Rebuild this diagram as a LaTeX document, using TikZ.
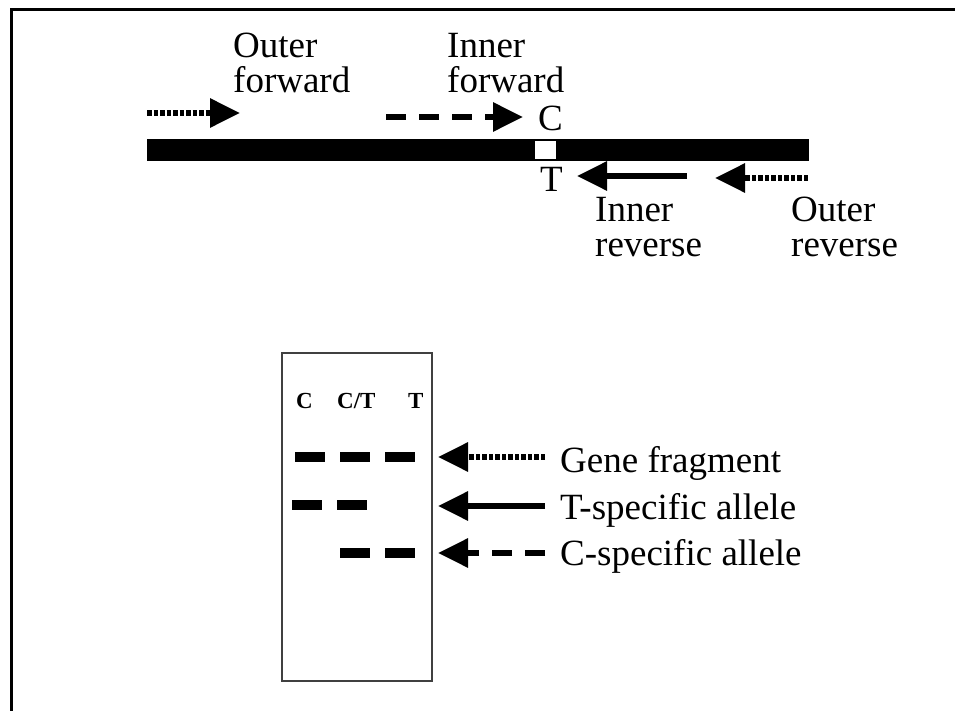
\documentclass[tikz,border=0pt]{standalone}
\usepackage{fontspec}
\setmainfont{Liberation Serif}
\usetikzlibrary{arrows.meta}
\begin{document}
\begin{tikzpicture}[x=1pt,y=-1pt,
  lbl/.style={inner sep=0pt,anchor=base west,font=\fontsize{37}{35}\selectfont,align=left},
  lane/.style={inner sep=0pt,anchor=base west,font=\fontsize{23}{23}\selectfont\bfseries},
  primer/.style={line width=6pt,-{Triangle[length=30pt,width=28pt]}},
  dotline/.style={primer,dash pattern=on 4.5pt off 2pt},
  dashline/.style={primer,dash pattern=on 20pt off 13pt},
  band/.style={fill=black}]
\useasboundingbox (0,0) rectangle (955,711);
% outer frame
\draw[line width=3pt] (11,711) -- (11,10) -- (955,10);

% gene with the C/T site
\fill (147,139) rectangle (809,161);
\fill[white] (535,141) rectangle (556,159);
\node[lbl] (siteC) at (538,131) {C};
\node[lbl] (siteT) at (540,192) {T};

% primers
\coordinate (of1) at (147,113); \coordinate (of2) at (240,113);
\coordinate (if1) at (386,117); \coordinate (if2) at (523,117);
\coordinate (ir1) at (687,176); \coordinate (ir2) at (577,176);
\coordinate (or1) at (808,178); \coordinate (or2) at (715,178);
\draw[dotline] (of1) -- (of2);
\draw[dashline] (if1) -- (if2);
\draw[primer] (ir1) -- (ir2);
\draw[dotline] (or1) -- (or2);

% two-line labels, placed by the baseline of their last line
\node[lbl] (ofl) at (233,93) {Outer\\forward};
\node[lbl] (ifl) at (447,93) {Inner\\forward};
\node[lbl] (irl) at (595,257) {Inner\\reverse};
\node[lbl] (orl) at (791,257) {Outer\\reverse};

% gel
\draw[line width=1.8pt,black!75] (282,353) rectangle (432,681);
\node[lane] (l1) at (296,408) {C};
\node[lane] (l2) at (337,408) {C/T};
\node[lane] (l3) at (408,408) {T};

\fill[band] (295,452) rectangle (325,462);
\fill[band] (340,452) rectangle (370,462);
\fill[band] (385,452) rectangle (415,462);
\fill[band] (292,500) rectangle (322,510);
\fill[band] (337,500) rectangle (367,510);
\fill[band] (340,548) rectangle (370,558);
\fill[band] (385,548) rectangle (415,558);

% legend
\coordinate (g1) at (545,457); \coordinate (g2) at (438,457);
\coordinate (t1) at (545,506); \coordinate (t2) at (438,506);
\coordinate (c1) at (545,553); \coordinate (c2) at (438,553);
\draw[dotline] (g1) -- (g2);
\draw[primer] (t1) -- (t2);
\draw[dashline] (c1) -- (c2);
\node[lbl] (gl) at (560,472) {Gene fragment};
\node[lbl] (tl) at (560,519) {T-specific allele};
\node[lbl] (cl) at (560,565) {C-specific allele};
\end{tikzpicture}
\end{document}
